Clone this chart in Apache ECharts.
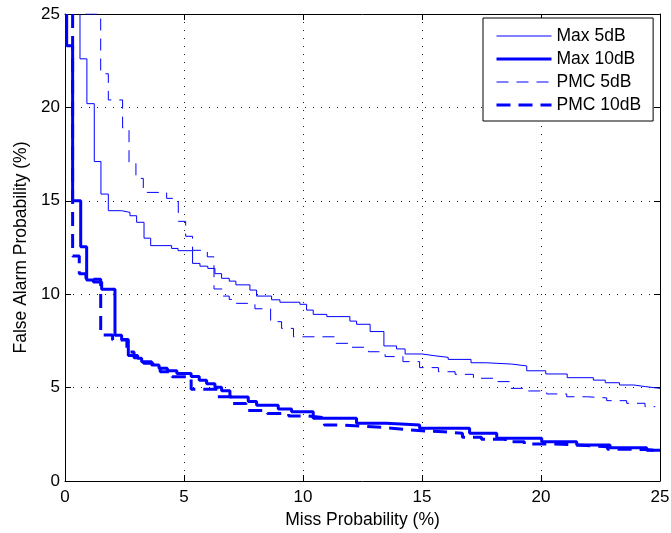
<!DOCTYPE html>
<html>
<head>
<meta charset="utf-8">
<script src="https://cdn.jsdelivr.net/npm/echarts@6/dist/echarts.min.js"></script>
<style>
  html, body { margin: 0; padding: 0; background: #fff; }
  #chart { width: 671px; height: 533px; }
</style>
</head>
<body>
<div id="chart"></div>
<script>
// tick values of both axes (%)
const ticks = [0, 5, 10, 15, 20, 25];

// each pair: miss prob where a level starts, false alarm level (step curves)
const max5Miss = [0.63, 0.63, 0.92, 1.23, 1.51, 1.82, 2.38, 2.73, 3.01, 3.32, 3.6, 4.48, 4.75, 5.36, 5.67, 6.0, 6.3, 6.58, 6.9, 7.18, 7.77, 8.05, 8.68, 9.03, 9.87, 10.15, 10.43, 11.0, 11.97, 12.25, 12.82, 13.4, 13.93, 14.29, 15.0, 15.5, 16.1, 17.06, 17.7, 18.77, 19.4, 20.2, 21.1, 22.2, 22.7, 23.3, 23.9, 24.4, 25];
const max5Fa   = [25, 22.6, 20.2, 17.1, 15.36, 14.47, 14.38, 14.2, 13.85, 13.0, 12.6, 12.45, 12.33, 11.65, 11.5, 11.38, 11.1, 10.85, 10.7, 10.5, 10.22, 9.9, 9.7, 9.57, 9.46, 9.15, 8.92, 8.8, 8.56, 8.39, 8.0, 7.23, 7.07, 6.8, 6.71, 6.62, 6.51, 6.33, 6.26, 6.16, 5.9, 5.73, 5.53, 5.4, 5.26, 5.14, 5.05, 4.96, 4.96];

const max10Miss = [0.07, 0.07, 0.32, 0.66, 0.91, 1.19, 1.54, 2.1, 2.38, 2.66, 3.05, 3.22, 3.64, 3.95, 4.3, 4.7, 5.3, 5.64, 5.95, 6.3, 6.58, 6.93, 7.7, 8.05, 8.96, 9.52, 10.43, 12.25, 13.5, 14.9, 17.0, 18.14, 20.03, 21.5, 22.9, 24.44, 25];
const max10Fa   = [25, 23.3, 15.0, 12.54, 10.76, 10.65, 10.26, 7.8, 7.58, 6.72, 6.57, 6.39, 6.21, 6.03, 5.9, 5.76, 5.6, 5.4, 5.2, 5.02, 4.83, 4.5, 4.25, 4.05, 3.86, 3.71, 3.36, 3.09, 3.0, 2.82, 2.55, 2.29, 2.1, 1.93, 1.78, 1.65, 1.65];

const pmc5Miss = [0.85, 1.5, 1.82, 2.42, 2.69, 2.98, 3.29, 4.27, 4.76, 5.07, 5.36, 5.98, 6.26, 6.6, 6.9, 7.2, 7.98, 8.64, 9.1, 9.6, 11.34, 11.97, 12.75, 13.45, 14.2, 14.9, 15.69, 16.39, 17.16, 18.0, 18.7, 19.4, 20.24, 21.08, 21.92, 22.76, 23.6, 24.37, 24.8];
const pmc5Fa   = [25, 21.8, 20.4, 18.9, 17.0, 16.2, 15.45, 15.13, 13.9, 13.1, 12.35, 12.0, 10.28, 9.9, 9.72, 9.51, 9.22, 8.53, 8.17, 7.72, 7.37, 7.16, 6.92, 6.66, 6.39, 6.07, 5.85, 5.71, 5.5, 5.32, 4.96, 4.82, 4.66, 4.51, 4.45, 4.3, 4.16, 3.98, 3.98];

const pmc10Miss = [0.32, 0.32, 0.6, 0.88, 1.5, 2.0, 2.6, 2.9, 3.3, 3.7, 4.0, 4.5, 5.3, 6.4, 7.0, 7.6, 8.5, 9.4, 10.2, 10.9, 11.6, 12.5, 13.3, 14.2, 15.0, 15.9, 16.7, 17.5, 18.5, 19.3, 20.4, 21.2, 21.9, 22.8, 23.6, 24.4, 25];
const pmc10Fa   = [25, 12.04, 11.1, 10.8, 7.82, 7.55, 6.9, 6.6, 6.3, 6.05, 5.85, 5.58, 4.91, 4.51, 4.15, 3.78, 3.62, 3.48, 3.39, 3.0, 2.94, 2.87, 2.77, 2.69, 2.64, 2.55, 2.34, 2.23, 2.1, 1.98, 1.95, 1.9, 1.84, 1.7, 1.68, 1.62, 1.62];

const seriesNames = ['Max 5dB', 'Max 10dB', 'PMC 5dB', 'PMC 10dB'];
const lineWidths = [1, 3, 1, 3];
const dashTypes = ['solid', 'solid', [12, 8], [14, 8]];

function pairs(xs, ys) {
  return xs.map((x, i) => [x, ys[i]]);
}

const font = 'Liberation Sans, Arial, Helvetica, sans-serif';
const blue = '#0000ff';

function stepSeries(i, xs, ys) {
  return {
    name: seriesNames[i],
    type: 'line',
    step: 'end',
    symbol: 'none',
    data: pairs(xs, ys),
    lineStyle: { color: blue, width: lineWidths[i], type: dashTypes[i] },
    itemStyle: { color: blue },
    animation: false
  };
}

function axisCommon(pos) {
  return {
    type: 'value',
    position: pos,
    min: ticks[0],
    max: ticks[ticks.length - 1],
    interval: 5,
    axisLine: { show: true, onZero: false, lineStyle: { color: '#000', width: 1 } },
    axisTick: { show: true, inside: true, length: 6, lineStyle: { color: '#000' } },
    axisLabel: { show: false },
    splitLine: { show: false }
  };
}

const chart = echarts.init(document.getElementById('chart'));

const xMain = axisCommon('bottom');
xMain.axisLabel = { show: true, color: '#000', fontSize: 17, fontFamily: font, margin: 8 };
xMain.splitLine = { show: true, lineStyle: { color: '#222', width: 1, type: [1, 7] } };
xMain.name = 'Miss Probability (%)';
xMain.nameLocation = 'middle';
xMain.nameGap = 30;
xMain.nameTextStyle = { color: '#000', fontSize: 17.5, fontFamily: font };

const yMain = axisCommon('left');
yMain.axisLabel = { show: true, color: '#000', fontSize: 17, fontFamily: font, margin: 5 };
yMain.splitLine = { show: true, lineStyle: { color: '#222', width: 1, type: [1, 7] } };
yMain.name = 'False Alarm Probability (%)';
yMain.nameLocation = 'middle';
yMain.nameGap = 35;
yMain.nameTextStyle = { color: '#000', fontSize: 17.5, fontFamily: font };

chart.setOption({
  backgroundColor: '#fff',
  animation: false,
  grid: { left: 65, right: 11, top: 14, bottom: 52, containLabel: false, outerBoundsMode: 'none' },
  xAxis: [xMain, axisCommon('top')],
  yAxis: [yMain, axisCommon('right')],
  legend: {
    orient: 'vertical',
    left: 483,
    top: 18,
    data: seriesNames.map((n, i) => ({
      name: n,
      lineStyle: { width: lineWidths[i], type: dashTypes[i], color: blue }
    })),
    backgroundColor: '#fff',
    borderColor: '#000',
    borderWidth: 1,
    padding: [9, 12, 7, 12],
    itemWidth: 55,
    itemHeight: 14,
    itemGap: 5,
    itemStyle: { opacity: 0 },
    textStyle: { color: '#000', fontSize: 17.5, fontFamily: font }
  },
  series: [
    stepSeries(0, max5Miss, max5Fa),
    stepSeries(1, max10Miss, max10Fa),
    stepSeries(2, pmc5Miss, pmc5Fa),
    stepSeries(3, pmc10Miss, pmc10Fa)
  ]
});
</script>
</body>
</html>
